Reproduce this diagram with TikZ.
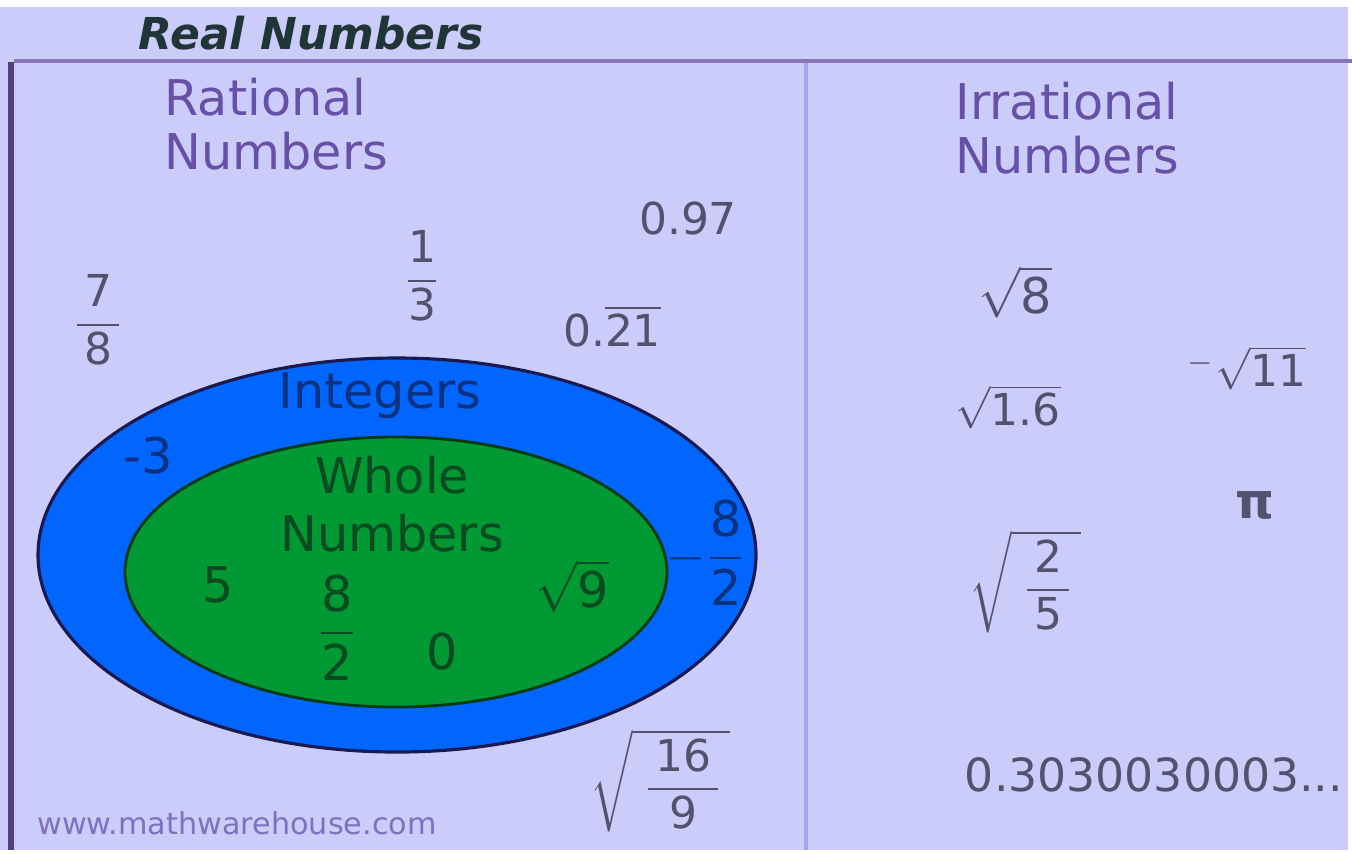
\documentclass[tikz,border=0pt]{standalone}
\usepackage{fontspec}
\setmainfont{DejaVu Sans}
\usepackage{amsmath}
\definecolor{bg}{HTML}{CCCCFA}
\definecolor{hdr}{HTML}{203636}
\definecolor{hline}{HTML}{8676B6}
\definecolor{lline}{HTML}{533F85}
\definecolor{divline}{HTML}{A4A4F4}
\definecolor{ttl}{HTML}{6650A8}
\definecolor{numc}{HTML}{52526E}
\definecolor{outerc}{HTML}{0066FF}
\definecolor{outerl}{HTML}{1A1A50}
\definecolor{innerc}{HTML}{009933}
\definecolor{innerl}{HTML}{0A3A14}
\definecolor{intc}{HTML}{0A3280}
\definecolor{whc}{HTML}{0A4A20}
\definecolor{web}{HTML}{8070C0}
\newcommand{\dg}[1]{\mbox{#1}}
\tikzset{
  num/.style={text=numc, font=\fontsize{12.5}{14}\selectfont, inner sep=0pt},
  bignum/.style={text=numc, font=\fontsize{14}{16}\selectfont, inner sep=0pt},
  title/.style={text=ttl, font=\fontsize{14}{15.6}\selectfont, align=left, inner sep=0pt, anchor=north west},
  intl/.style={text=intc, font=\fontsize{14}{16}\selectfont, inner sep=0pt},
  whl/.style={text=whc, font=\fontsize{14}{16}\selectfont, inner sep=0pt},
}
\begin{document}
\begin{tikzpicture}[x=0.01cm,y=-0.01cm]
\useasboundingbox (0,0) rectangle (1352,853);
\fill[white] (0,0) rectangle (1352,853);
\fill[bg] (0,7) rectangle (1348,850);
% frame lines
\draw[hline, line width=1.4pt] (14,61) -- (1352,61);
\draw[lline, line width=1.5pt] (11,62) -- (11,850);
\draw[divline, line width=1.2pt] (806,63) -- (806,850);
% header
\node[text=hdr, font=\fontsize{12.5}{14}\bfseries\itshape\selectfont, inner sep=0pt] (hd) at (311,33) {Real Numbers};
\node[title] (rat) at (164,77) {Rational\\Numbers};
\node[title] (irr) at (955,81) {Irrational\\Numbers};
% ellipses
\draw[fill=outerc, draw=outerl, line width=0.9pt] (397,555) ellipse [x radius=359, y radius=197];
\draw[fill=innerc, draw=innerl, line width=0.8pt] (396,572) ellipse [x radius=271, y radius=135];
% rational numbers
\node[num] (n097) at (688,218) {0.97};
\node[num] (n13) at (422,276) {$\dfrac{\dg{1}}{\dg{3}}$};
\node[num] (n78) at (98,320) {$\dfrac{\,\dg{7}\,}{\,\dg{8}\,}$};
\node[num] (n021) at (612,326) {0.$\overline{\dg{21}}$};
\node[num] (n169) at (660,781) {$\sqrt{\;\dfrac{\,\dg{16}\,}{\dg{9}}\,}$};
\node[text=web, font=\fontsize{8.6}{10}\selectfont, inner sep=0pt] (www) at (237,823) {www.mathwarehouse.com};
% integers
\node[intl] (int) at (380,396) {Integers};
\node[intl] (m3) at (148,456) {-3};
\node[intl] (m82) at (706,553) {$-\dfrac{\dg{8}}{\dg{2}}$};
% whole numbers
\node[whl] (wh) at (392,475) {Whole};
\node[whl] (whn) at (392,533) {Numbers};
\node[whl] (w5) at (218,585) {5};
\node[whl] (w82) at (337,628) {$\dfrac{\dg{8}}{\dg{2}}$};
\node[whl] (w0) at (442,652) {0};
\node[whl] (w9) at (572,586) {$\sqrt{\dg{9}}$};
% irrational numbers
\node[bignum] (i8) at (1015,292) {$\sqrt{\dg{8}}$};
\node[num] (i11) at (1247,368) {$^{-}\sqrt{\dg{11}}$};
\node[num] (i16) at (1008,407) {$\sqrt{\dg{1.6}}$};
\node[num, font=\fontsize{14}{15}\bfseries\selectfont] (ipi) at (1255,505) {π};
\node[num] (i25) at (1025,582) {$\sqrt{\;\dfrac{\,\dg{2}\,}{\dg{5}}\,}$};
\node[num, font=\fontsize{13}{15}\selectfont] (i03) at (1154,775) {0.3030030003...};
\end{tikzpicture}
\end{document}
